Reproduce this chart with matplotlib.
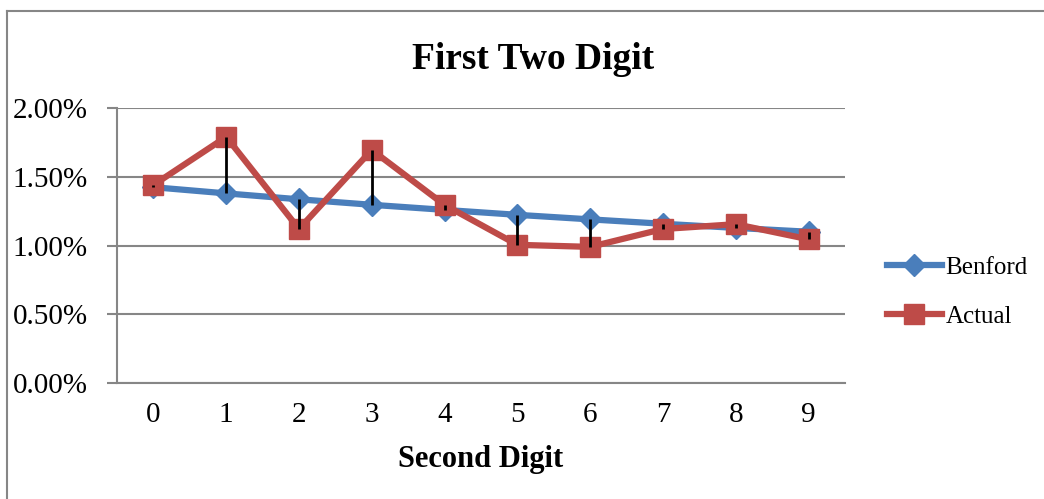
import numpy as np
import matplotlib.pyplot as plt
from matplotlib.lines import Line2D
from matplotlib.ticker import FuncFormatter

# data
digits = ['0', '1', '2', '3', '4', '5', '6', '7', '8', '9']
benford = [1.424, 1.379, 1.336, 1.296, 1.259, 1.223, 1.190, 1.158, 1.128, 1.100]
actual = [1.44, 1.79, 1.12, 1.695, 1.295, 1.005, 0.99, 1.12, 1.155, 1.045]

plt.rcParams['font.family'] = ['Liberation Serif', 'DejaVu Serif']

fig = plt.figure(figsize=(10.44, 4.99), dpi=100)
ax = fig.add_axes([117/1044, 1-383/499, (845-117)/1044, (383-108)/499])

x = np.arange(len(digits))
blue = '#4A7EBB'
red = '#BE4B48'

ax.plot(x, benford, color=blue, lw=4.5, marker='D', ms=11, label='Benford', zorder=3)
ax.plot(x, actual, color=red, lw=4.5, marker='s', ms=15, label='Actual', zorder=4)
# high-low lines
ax.vlines(x, np.minimum(benford, actual), np.maximum(benford, actual),
          color='black', lw=2, zorder=5)

ax.set_xlim(-0.5, 9.5)
ax.set_ylim(0, 2.0)
ax.set_yticks(np.arange(0, 2.01, 0.5))
ax.yaxis.set_major_formatter(FuncFormatter(lambda v, p: '%.2f%%' % v))
ax.set_xticks(x)
ax.set_xticklabels(digits)
ax.grid(axis='y', color='#868686', lw=1.5)
ax.set_axisbelow(True)
for s in ['top', 'right']:
    ax.spines[s].set_visible(False)
for s in ['left', 'bottom']:
    ax.spines[s].set_color('#868686')
    ax.spines[s].set_linewidth(1.5)
ax.tick_params(axis='y', length=7, color='#868686', width=1.5, labelsize=21, pad=14)
ax.tick_params(axis='x', length=0, labelsize=21, pad=14)

ax.set_title('First Two Digit', fontsize=27, fontweight='bold', x=(533-117)/(845-117), pad=28)
ax.set_xlabel('Second Digit', fontsize=22, fontweight='bold', labelpad=12,
              x=(481-117)/(845-117))

h1 = Line2D([], [], color=blue, lw=4.5, marker='D', ms=11)
h2 = Line2D([], [], color=red, lw=4.5, marker='s', ms=15)
fig.legend([h1, h2], ['Benford', 'Actual'], loc='center left',
           bbox_to_anchor=(864/1044, 1-292/499), frameon=False, fontsize=18,
           handlelength=2.2, handletextpad=0.15, labelspacing=1.05)

# chart border
fig.add_artist(Line2D([7/1044, 7/1044], [0, 1-11/499], transform=fig.transFigure, color='#868686', lw=1.5))
fig.add_artist(Line2D([7/1044, 1], [1-11/499, 1-11/499], transform=fig.transFigure, color='#868686', lw=1.5))

fig.savefig('out.png', dpi=100)
